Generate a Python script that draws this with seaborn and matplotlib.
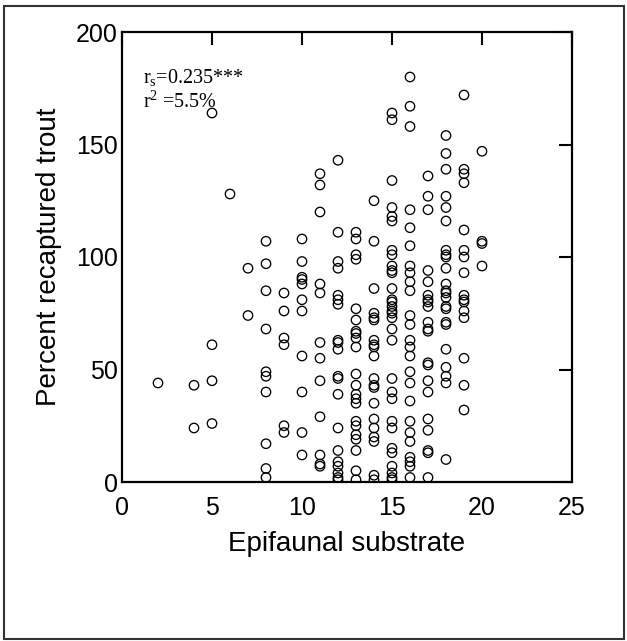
import numpy as np
import pandas as pd
import matplotlib
matplotlib.use("Agg")
import matplotlib.pyplot as plt
import seaborn as sns
from matplotlib.patches import Rectangle

# ---- data: percent recaptured trout at each epifaunal substrate score ----
y_at_2 = [44]
y_at_4 = [43, 24]
y_at_5 = [164, 61, 45, 26]
y_at_6 = [128]
y_at_7 = [95, 74]
y_at_8 = [107, 97, 85, 68, 49, 47, 40, 17, 6, 2]
y_at_9 = [84, 76, 64, 61, 25, 22]
y_at_10 = [108, 98, 91, 90, 88, 81, 76, 56, 40, 22, 12]
y_at_11 = [137, 132, 120, 88, 84, 62, 55, 45, 29, 12, 8, 7]
y_at_12 = [143, 111, 98, 95, 83, 81, 79, 63, 62, 59, 47, 46, 39, 24, 14, 9, 7, 4, 2, 1]
y_at_13 = [111, 108, 101, 99, 77, 72, 67, 66, 64, 60, 48, 43, 39, 37, 35, 27, 25, 21, 19, 14, 5, 1]
y_at_14 = [125, 107, 86, 75, 73, 72, 63, 61, 60, 56, 46, 43, 42, 35, 28, 24, 20, 18, 3, 1]
y_at_15 = [164, 161, 134, 122, 118, 116, 103, 101, 96, 94, 93, 86, 81, 80, 78, 76, 75, 73,
           68, 63, 46, 40, 37, 27, 24, 15, 13, 7, 4, 2, 1]
y_at_16 = [180, 167, 158, 121, 113, 105, 96, 93, 89, 85, 74, 70, 63, 60, 56, 49, 44, 36,
           27, 22, 18, 11, 9, 7, 2]
y_at_17 = [136, 127, 121, 94, 89, 83, 81, 80, 78, 71, 68, 67, 53, 52, 45, 40, 28, 23, 14, 13, 2]
y_at_18 = [154, 146, 139, 127, 122, 116, 103, 101, 100, 95, 88, 85, 84, 82, 78, 77, 71, 70,
           59, 51, 47, 44, 10]
y_at_19 = [172, 139, 137, 133, 112, 103, 100, 93, 83, 81, 80, 76, 73, 55, 43, 32]
y_at_20 = [147, 107, 106, 96]

substrate_scores = [2, 4, 5, 6, 7, 8, 9, 10, 11, 12, 13, 14, 15, 16, 17, 18, 19, 20]
columns = [y_at_2, y_at_4, y_at_5, y_at_6, y_at_7, y_at_8, y_at_9, y_at_10, y_at_11,
           y_at_12, y_at_13, y_at_14, y_at_15, y_at_16, y_at_17, y_at_18, y_at_19, y_at_20]

x_ticks = [0, 5, 10, 15, 20, 25]
y_ticks = [0, 50, 100, 150, 200]
x_label = "Epifaunal substrate"
y_label = "Percent recaptured trout"
stat_line1 = r"r$_{\mathrm{s}}$=0.235***"
stat_line2 = r"r$^{\mathrm{2}}$ =5.5%"

rows = []
for s, ys in zip(substrate_scores, columns):
    for v in ys:
        rows.append((s, v))
df = pd.DataFrame(rows, columns=["substrate", "recaptured"])

# ---- style ----
sns.set_style("white")
plt.rcParams["font.family"] = ["Liberation Sans", "DejaVu Sans"]
plt.rcParams["mathtext.fontset"] = "custom"
plt.rcParams["mathtext.rm"] = "Liberation Serif"
plt.rcParams["mathtext.it"] = "Liberation Serif:italic"
plt.rcParams["text.color"] = "black"
plt.rcParams["axes.labelcolor"] = "black"
plt.rcParams["xtick.color"] = "black"
plt.rcParams["ytick.color"] = "black"
plt.rcParams["xtick.labelcolor"] = "black"
plt.rcParams["ytick.labelcolor"] = "black"

W, H = 627, 641
fig = plt.figure(figsize=(W / 100, H / 100), dpi=100)
fig.patch.set_facecolor("white")
ax = fig.add_axes([122 / W, 1 - 482 / H, 450 / W, 450 / H])

sns.scatterplot(data=df, x="substrate", y="recaptured", ax=ax,
                marker="o", s=46, facecolors="none", edgecolor="black",
                linewidth=0.95, legend=False)

ax.set_xlim(0, 25)
ax.set_ylim(0, 200)
ax.set_xticks(x_ticks)
ax.set_yticks(y_ticks)
ax.set_xticklabels([str(t) for t in x_ticks])
ax.set_yticklabels([str(t) for t in y_ticks])
ax.tick_params(axis="both", direction="in", length=9.5, width=1.5, color="black",
               labelcolor="black", labelsize=18, top=True, right=True)
ax.tick_params(axis="x", pad=10)
ax.tick_params(axis="y", pad=3)
for sp in ax.spines.values():
    sp.set_visible(True)
    sp.set_linewidth(1.6)
    sp.set_color("black")

ax.set_xlabel(x_label, fontsize=20, labelpad=8, color="black")
ax.set_ylabel(y_label, fontsize=20, labelpad=10, color="black")

ax.text(0.047, 0.887, stat_line1, transform=ax.transAxes, fontsize=14.5,
        family="Liberation Serif", va="baseline", ha="left", color="black")
ax.text(0.047, 0.831, stat_line2, transform=ax.transAxes, fontsize=14.5,
        family="Liberation Serif", va="baseline", ha="left", color="black")

# outer frame around the figure
fig.add_artist(Rectangle((4 / W, 1 - 639 / H), 620 / W, 633 / H,
                         transform=fig.transFigure, fill=False,
                         edgecolor="#333333", linewidth=1.5))

fig.savefig("out.png", dpi=100)
